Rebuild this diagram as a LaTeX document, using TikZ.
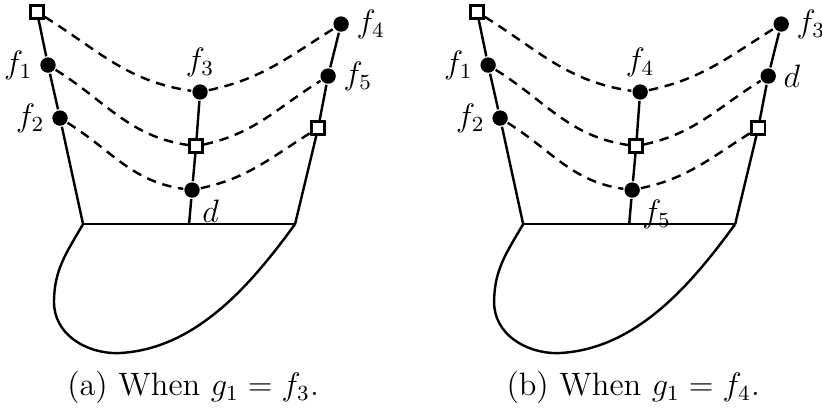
\documentclass[12pt,tikz,border=0pt]{standalone}
\usepackage{amsmath}

\tikzset{
  dot/.style={circle,fill=black,inner sep=0pt,minimum size=0.2cm},
  sq/.style={rectangle,draw,fill=white,line width=0.9pt,inner sep=0pt,minimum size=0.17cm},
  every label/.style={inner sep=2pt},
}

\begin{document}
\begin{tikzpicture}[line width=0.9pt]
\useasboundingbox (0,0) rectangle (10.70,5.30);
\foreach \sx/\pl/\ma/\mb/\ra/\rb/\gv in {0/a/f_3/d/f_4/f_5/f_3, 5.729/b/f_4/f_5/f_3/d/f_4} {
\begin{scope}[xshift=\sx cm]
% left branch
\node[sq] (L0) at (0.482,5.143) {};
\node[dot,label=left:$f_1$] (L1) at (0.625,4.453) {};
\node[dot,label=left:$f_2$] (L2) at (0.781,3.763) {};
\coordinate (LB) at (1.081,2.383);
% middle branch
\node[dot,label=above:$\ma$] (M0) at (2.604,4.102) {};
\node[sq] (M1) at (2.552,3.398) {};
\node[dot,label={[inner sep=1pt]below right:$\mb$}] (M2) at (2.500,2.826) {};
\coordinate (MB) at (2.461,2.383);
% right branch
\node[dot,label=right:$\ra$] (R0) at (4.440,4.987) {};
\node[dot,label=right:$\rb$] (R1) at (4.271,4.310) {};
\node[sq] (R2) at (4.141,3.633) {};
\coordinate (RB) at (3.841,2.383);
\draw (L0) -- (L1) -- (L2) -- (LB);
\draw (M0) -- (M1) -- (M2) -- (MB);
\draw (R0) -- (R1) -- (R2) -- (RB);
\draw (LB) -- (RB);
\foreach \a/\b/\c in {L0/M0/R0, L1/M1/R1, L2/M2/R2}
  \draw[dash pattern=on 3.5pt off 2.5pt] (\a) to[out=-32,in=172] (\b) to[out=12,in=-148] (\c);
% blob
\draw (LB) to[out=-120,in=90] (0.703,1.367) to[out=-90,in=180] (1.523,0.703) to[out=2,in=-126,looseness=0.9] (RB);
\node (cap) at (2.513,0.26) {(\pl) When $g_1 = \gv$.};
\end{scope}
}
\end{tikzpicture}
\end{document}
